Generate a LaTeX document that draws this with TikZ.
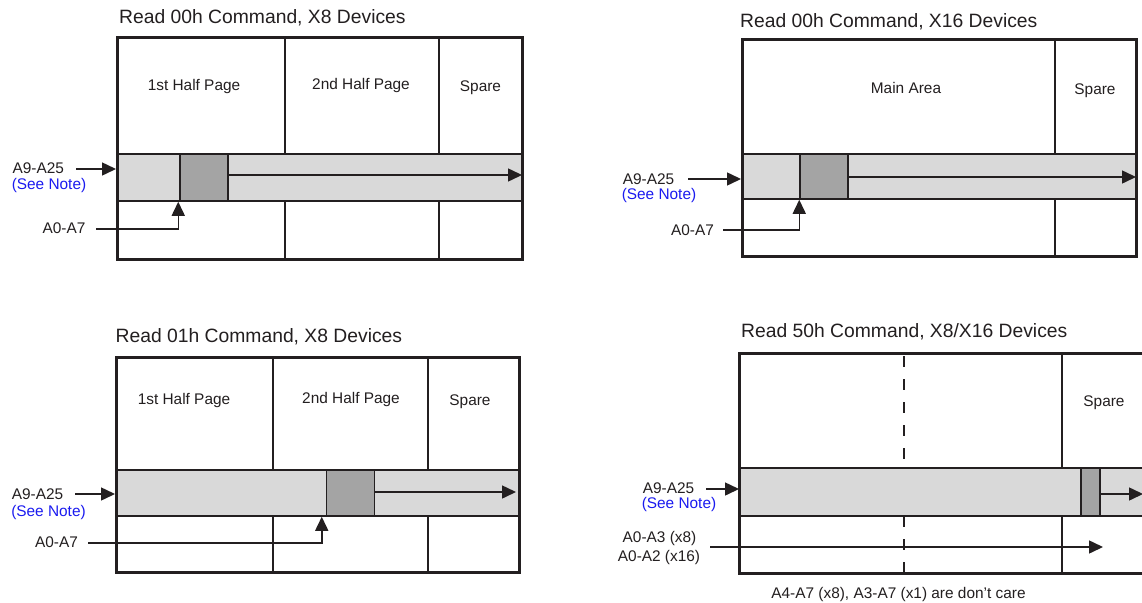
\documentclass[tikz,border=0pt]{standalone}
\usepackage{fontspec}
\setmainfont{Liberation Sans}
\usetikzlibrary{arrows.meta}
\definecolor{ink}{HTML}{231F20}
\definecolor{bandgray}{HTML}{D9D9D9}
\definecolor{darkgray}{HTML}{A4A4A4}
\definecolor{noteblue}{HTML}{1A1AF0}
\tikzset{
  outer/.style={draw=ink,line width=3pt},
  divider/.style={draw=ink,line width=2pt},
  band/.style={fill=bandgray,draw=ink,line width=2pt},
  darkbox/.style={fill=darkgray,draw=ink,line width=1.5pt},
  arr/.style={draw=ink,line width=1.5pt,-{Triangle[length=14pt,width=13pt]}},
  dashdiv/.style={draw=ink,line width=2pt,dash pattern=on 11pt off 12pt},
  title/.style={text=ink,inner sep=0pt,anchor=west,font=\fontsize{19.3}{23}\selectfont},
  lbl/.style={text=ink,inner sep=0pt,font=\fontsize{15.4}{18}\selectfont},
  note/.style={text=noteblue,inner sep=0pt,font=\fontsize{15.4}{18}\selectfont}
}
\begin{document}
\begin{tikzpicture}[x=1pt,y=-1pt]
\useasboundingbox (0,0) rectangle (1142,602);
\clip (0,0) rectangle (1142,602);
\fill[white] (0,0) rectangle (1142,602);

% ---------- Panel 1 ----------
\node[title] (t1) at (119,18) {Read 00h Command, X8 Devices};
\path[band] (117,154) rectangle (522,201);
\draw[divider] (284.5,38) -- (284.5,154) (284.5,201) -- (284.5,259);
\draw[divider] (439,38) -- (439,154) (439,201) -- (439,259);
\node[darkbox,minimum width=48pt,minimum height=47pt,inner sep=0pt] (d1) at (204,177.5) {};
\draw[outer] (117,38) rectangle (522,259);
\coordinate (e1) at (522,175);
\draw[arr] (d1.east |- e1) -- (e1);
\node[lbl] (p1a) at (194,87) {1st Half Page};
\node[lbl] (p1b) at (361,86) {2nd Half Page};
\node[lbl] (p1c) at (480.5,88) {Spare};
\node[lbl] (a1) at (38.3,168) {A9-A25};
\node[note] (n1) at (49,186) {(See Note)};
\coordinate (a1s) at (76,169);
\coordinate (a1e) at (116,169);
\draw[arr] (a1s) -- (a1e);
\node[lbl] (b1) at (64,228) {A0-A7};
\coordinate (b1s) at (96,229);
\draw[arr] (b1s) -| ([xshift=-1pt]d1.south west);

% ---------- Panel 2 ----------
\node[title] (t2) at (740,22) {Read 00h Command, X16 Devices};
\path[band] (742,154) rectangle (1136,199);
\draw[divider] (1055,40) -- (1055,154) (1055,199) -- (1055,256);
\node[darkbox,minimum width=48pt,minimum height=45pt,inner sep=0pt] (d2) at (824,176.5) {};
\draw[outer] (742,40) rectangle (1136,256);
\coordinate (e2) at (1136,177);
\draw[arr] (d2.east |- e2) -- (e2);
\node[lbl] (p2a) at (906,88) {Main Area};
\node[lbl] (p2c) at (1095,91) {Spare};
\node[lbl] (a2) at (648.5,179) {A9-A25};
\node[note] (n2) at (659,196) {(See Note)};
\coordinate (a2s) at (688,179);
\coordinate (a2e) at (741,179);
\draw[arr] (a2s) -- (a2e);
\node[lbl] (b2) at (692.5,230) {A0-A7};
\coordinate (b2s) at (723,230);
\draw[arr] (b2s) -| (d2.south west);

% ---------- Panel 3 ----------
\node[title] (t3) at (115.5,337) {Read 01h Command, X8 Devices};
\path[band] (116,470) rectangle (519,516);
\draw[divider] (273,357) -- (273,470) (273,516) -- (273,572);
\draw[divider] (428,357) -- (428,470) (428,516) -- (428,572);
\node[darkbox,minimum width=48pt,minimum height=46pt,inner sep=0pt] (d3) at (350.5,493) {};
\draw[outer] (116,357) rectangle (519,572);
\coordinate (e3) at (516,492);
\draw[arr] (d3.east |- e3) -- (e3);
\node[lbl] (p3a) at (184,401) {1st Half Page};
\node[lbl] (p3b) at (351,400) {2nd Half Page};
\node[lbl] (p3c) at (470,402) {Spare};
\node[lbl] (a3) at (37.5,494) {A9-A25};
\node[note] (n3) at (48.5,513) {(See Note)};
\coordinate (a3s) at (75,494);
\coordinate (a3e) at (115,494);
\draw[arr] (a3s) -- (a3e);
\node[lbl] (b3) at (56.5,542) {A0-A7};
\coordinate (b3s) at (88,543);
\draw[arr] (b3s) -| ([xshift=-4pt]d3.south west);

% ---------- Panel 4 ----------
\node[title] (t4) at (741,332) {Read 50h Command, X8/X16 Devices};
\path[band] (739,468) rectangle (1170,516);
\draw[dashdiv] (903.5,356) -- (903.5,468);
\draw[dashdiv] (903.5,516) -- (903.5,573);
\draw[divider] (1062,353) -- (1062,468) (1062,516) -- (1062,573);
\node[darkbox,minimum width=19pt,minimum height=48pt,inner sep=0pt] (d4) at (1090.5,492) {};
\draw[outer] (739,353) rectangle (1170,573);
\coordinate (e4) at (1143,494);
\draw[arr] (d4.east |- e4) -- (e4);
\node[lbl] (p4c) at (1104,403) {Spare};
\node[lbl] (a4) at (668.5,488) {A9-A25};
\node[note] (n4) at (679,505) {(See Note)};
\coordinate (a4s) at (706,489);
\coordinate (a4e) at (739,489);
\draw[arr] (a4s) -- (a4e);
\node[lbl] (b4a) at (659.5,539) {A0-A3 (x8)};
\node[lbl] (b4b) at (659,558) {A0-A2 (x16)};
\coordinate (b4s) at (710,547);
\coordinate (b4e) at (1103,547);
\draw[arr] (b4s) -- (b4e);
\node[lbl] (c4) at (898.5,595) {A4-A7 (x8), A3-A7 (x1) are don’t care};
\end{tikzpicture}
\end{document}
